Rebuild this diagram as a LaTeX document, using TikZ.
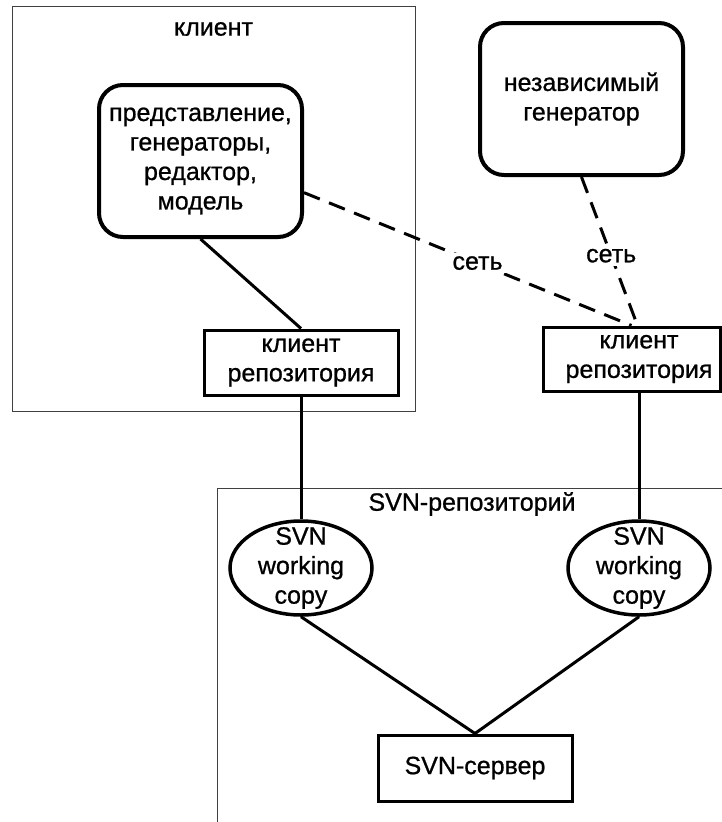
\documentclass[tikz,border=0pt]{standalone}
\usepackage{fontspec}
\setmainfont[FakeBold=0.8,AutoFakeBold=0.8]{Liberation Sans}
\usetikzlibrary{shapes.geometric,calc}
\begin{document}
\begin{tikzpicture}[x=1pt,y=-1pt,
  every node/.style={font=\fontsize{25}{29.5}\selectfont\bfseries, align=center, inner sep=0pt},
  frame/.style={draw=black!75, line width=1pt},
  rbox/.style={draw, line width=4pt, rounded corners=24pt, rectangle},
  sbox/.style={draw, line width=3pt, rectangle},
  wcopy/.style={draw, line width=3.5pt, ellipse},
  conn/.style={line width=3pt},
  net/.style={line width=3pt, dash pattern=on 17pt off 10pt},
  netlabel/.style={fill=white, inner sep=3pt}]
\useasboundingbox (0,0) rectangle (722,822);
\clip (0,0) rectangle (722,822);
\fill[white] (0,0) rectangle (722,822);
% frames
\draw[frame] (12,6) rectangle (415,411);
\draw[frame] (740,488) -- (217,488) -- (217,840);
\node at (213.5,29) {клиент};
\node at (472,504) {SVN-репозиторий};
% nodes
\node[rbox, minimum width=203pt, minimum height=152pt] (lbox) at (200.5,161) {};
\node at (lbox.center) {представление,\\генераторы,\\редактор,\\модель};
\node[rbox, minimum width=203pt, minimum height=152pt] (gbox) at (581.5,99) {};
\node at (gbox.center) {независимый\\генератор};
\node[sbox, minimum width=194pt, minimum height=65pt] (lrepo) at (301,362.5) {};
\node at (lrepo.center) {клиент\\репозитория};
\node[sbox, minimum width=177pt, minimum height=64pt] (rrepo) at (631.5,359) {};
\node at (639,359) {клиент\\репозитория};
\node[wcopy, minimum width=142pt, minimum height=94pt] (wc1) at (301,568) {};
\node at (wc1.center) {SVN\\working\\copy};
\node[wcopy, minimum width=142pt, minimum height=94pt] (wc2) at (639,568) {};
\node at (wc2.center) {SVN\\working\\copy};
\node[sbox, minimum width=194pt, minimum height=66pt] (server) at (475,768) {SVN-сервер};
% connectors
\draw[conn] (lbox.south) -- (lrepo.north);
\draw[conn] (lrepo.south) -- (wc1.north);
\draw[conn] (wc2.north |- rrepo.south) -- (wc2.north);
\draw[conn] (wc1.south) -- (server.north);
\draw[conn] (wc2.south) -- (server.north);
\draw[net] (lbox.-17) -- node[netlabel, pos=0.53] {сеть} (rrepo.north);
\draw[net] (gbox.south) -- node[netlabel, pos=0.53] {сеть} ([xshift=6pt]rrepo.north);
\end{tikzpicture}
\end{document}
